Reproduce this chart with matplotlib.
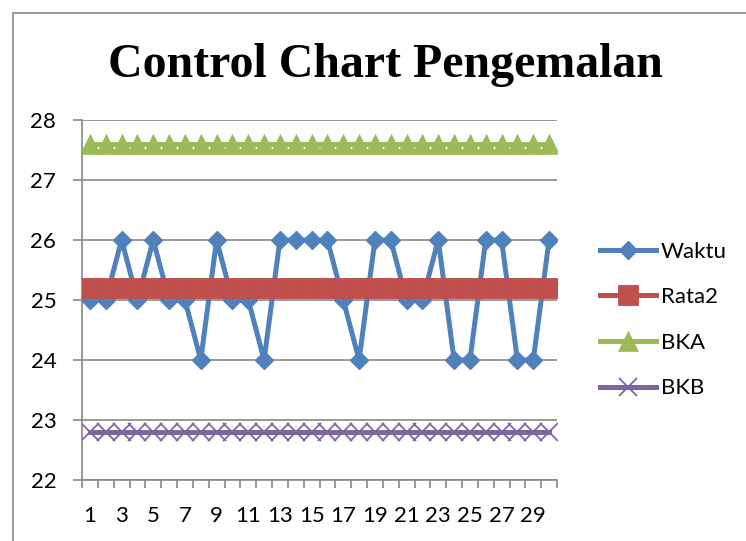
import matplotlib.pyplot as plt
from matplotlib.patches import Rectangle

# sample number and measured time
sampel = list(range(1, 31))
waktu = [25, 25, 26, 25, 26, 25, 25, 24, 26, 25,
         25, 24, 26, 26, 26, 26, 25, 24, 26, 26,
         25, 25, 26, 24, 24, 26, 26, 24, 24, 26]
rata2 = [25.2] * 30   # mean
bka = [27.6] * 30     # upper control limit
bkb = [22.8] * 30     # lower control limit

x_labels = [str(i) for i in range(1, 30, 2)]
y_ticks = [22, 23, 24, 25, 26, 27, 28]

W, H = 746, 541
fig = plt.figure(figsize=(W / 100, H / 100), dpi=100)
ax = fig.add_axes([82 / W, 1 - 480 / H, (557 - 82) / W, (480 - 120) / H])

grid_col = "#878787"

ax.plot(sampel, waktu, color="#4F81BD", lw=3.6, marker="D", ms=9.3, mew=1,
        label="Waktu", zorder=3)
ax.plot(sampel, rata2, color="#C0504D", lw=3.6, marker="s", ms=14,
        mec="#BE4B48", mew=0.6, label="Rata2", zorder=4)
ax.plot(sampel, bka, color="#9BBB59", lw=3.6, marker="^", ms=15,
        mew=0.5, label="BKA", zorder=5)
ax.plot(sampel, bkb, color="#8064A2", lw=3.6, marker="x", ms=12.5,
        mew=1.3, label="BKB", zorder=6)

ax.set_xlim(0.5, 30.5)
ax.set_ylim(22, 28)
ax.set_yticks(y_ticks)
ax.set_xticks(range(1, 30, 2))
ax.set_xticklabels(x_labels)
ax.set_xticks([i + 0.5 for i in range(0, 31)], minor=True)

for s in ["top", "right"]:
    ax.spines[s].set_visible(False)
for s in ["left", "bottom"]:
    ax.spines[s].set_color(grid_col)
    ax.spines[s].set_linewidth(1.2)

ax.yaxis.grid(True, color=grid_col, lw=1.2)
ax.set_axisbelow(True)

ax.tick_params(axis="y", length=6.5, width=1.2, color=grid_col, pad=12,
               labelsize=16)
ax.tick_params(axis="x", which="major", length=0, pad=19, labelsize=16)
ax.tick_params(axis="x", which="minor", length=6, width=1.2, color=grid_col)
for lab in ax.get_xticklabels() + ax.get_yticklabels():
    lab.set_fontfamily("Lato")

fig.text(385 / W, 1 - 77 / H, "Control Chart Pengemalan",
         family="Liberation Serif", fontweight="bold", fontsize=34.5,
         ha="center", va="baseline")

leg = fig.legend(loc="center left", bbox_to_anchor=(600 / W, 1 - 320 / H),
                 bbox_transform=fig.transFigure, frameon=False,
                 prop={"family": "Lato", "size": 16}, handlelength=2.5,
                 handletextpad=0.25, labelspacing=1.15, borderpad=0,
                 borderaxespad=0, numpoints=1)

# outer chart frame
fig.patches.append(Rectangle((12.5 / W, -0.5), 2, 1.5 - 12.5 / H,
                             transform=fig.transFigure, fill=False,
                             edgecolor="#8a8a8a", lw=1.2))

fig.savefig("out.png", dpi=100)
